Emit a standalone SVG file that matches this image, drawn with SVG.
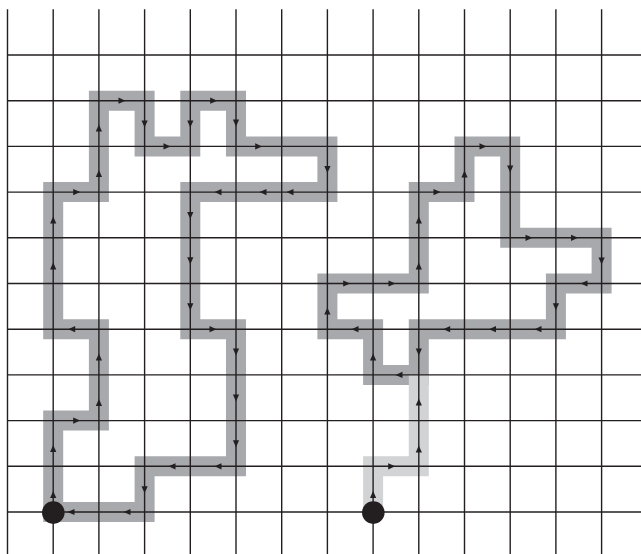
<svg xmlns="http://www.w3.org/2000/svg" xmlns:xlink="http://www.w3.org/1999/xlink" width="641" height="554" viewBox="0 0 641 554">
<style>
.band{fill:none;stroke:#a7a9ac;stroke-width:20;stroke-linejoin:miter;stroke-linecap:butt}
.light{fill:none;stroke:#d1d3d4;stroke-width:20;stroke-linejoin:miter;stroke-linecap:butt}
.grid line{stroke:#231f20;stroke-width:1.4}
.arr use{fill:#231f20}
.dot{fill:#231f20}
</style>
<defs>
<path id="a" d="M3.5,0 L-3.5,-3.1 L-3.5,3.1 Z"/>
</defs>
<rect width="641" height="554" fill="#ffffff"/>
<g id="connectors">
<path id="leftLoop" class="band" d="M53.2,512 V420.6 H98.9 V329.2 H53.2 V192.1 H98.9 V100.7 H144.6 V146.4 H190.3 V100.7 H236 V146.4 H327.4 V192.1 H190.3 V329.2 H236 V466.3 H144.6 V512 Z"/>
<path id="rightLoop" class="band" d="M418.8,374.9 H373.1 V329.2 H327.4 V283.5 H418.8 V192.1 H464.5 V146.4 H510.2 V237.8 H601.6 V283.5 H555.9 V329.2 H418.8 Z"/>
<path id="rightLead" class="light" d="M373.1,512 V466.3 H418.8 V374.9"/>
</g>
<g id="grid" class="grid">
<line x1="7.5" y1="9.3" x2="7.5" y2="554"/>
<line x1="53.2" y1="9.3" x2="53.2" y2="554"/>
<line x1="98.9" y1="9.3" x2="98.9" y2="554"/>
<line x1="144.6" y1="9.3" x2="144.6" y2="554"/>
<line x1="190.3" y1="9.3" x2="190.3" y2="554"/>
<line x1="236" y1="9.3" x2="236" y2="554"/>
<line x1="281.7" y1="9.3" x2="281.7" y2="554"/>
<line x1="327.4" y1="9.3" x2="327.4" y2="554"/>
<line x1="373.1" y1="9.3" x2="373.1" y2="554"/>
<line x1="418.8" y1="9.3" x2="418.8" y2="554"/>
<line x1="464.5" y1="9.3" x2="464.5" y2="554"/>
<line x1="510.2" y1="9.3" x2="510.2" y2="554"/>
<line x1="555.9" y1="9.3" x2="555.9" y2="554"/>
<line x1="601.6" y1="9.3" x2="601.6" y2="554"/>
<line x1="7.5" y1="55" x2="641" y2="55"/>
<line x1="7.5" y1="100.7" x2="641" y2="100.7"/>
<line x1="7.5" y1="146.4" x2="641" y2="146.4"/>
<line x1="7.5" y1="192.1" x2="641" y2="192.1"/>
<line x1="7.5" y1="237.8" x2="641" y2="237.8"/>
<line x1="7.5" y1="283.5" x2="641" y2="283.5"/>
<line x1="7.5" y1="329.2" x2="641" y2="329.2"/>
<line x1="7.5" y1="374.9" x2="641" y2="374.9"/>
<line x1="7.5" y1="420.6" x2="641" y2="420.6"/>
<line x1="7.5" y1="466.3" x2="641" y2="466.3"/>
<line x1="7.5" y1="512" x2="641" y2="512"/>
</g>
<g id="arrowsLeft" class="arr">
<use xlink:href="#a" transform="translate(53.2,494.5) rotate(-90)"/>
<use xlink:href="#a" transform="translate(53.2,448.5) rotate(-90)"/>
<use xlink:href="#a" transform="translate(76.7,420.6)"/>
<use xlink:href="#a" transform="translate(98.9,402.5) rotate(-90)"/>
<use xlink:href="#a" transform="translate(98.9,357) rotate(-90)"/>
<use xlink:href="#a" transform="translate(71.7,329.2) rotate(180)"/>
<use xlink:href="#a" transform="translate(53.2,266) rotate(-90)"/>
<use xlink:href="#a" transform="translate(53.2,220) rotate(-90)"/>
<use xlink:href="#a" transform="translate(76.7,192.1)"/>
<use xlink:href="#a" transform="translate(98.9,173.5) rotate(-90)"/>
<use xlink:href="#a" transform="translate(98.9,128) rotate(-90)"/>
<use xlink:href="#a" transform="translate(122,100.7)"/>
<use xlink:href="#a" transform="translate(144.6,124) rotate(90)"/>
<use xlink:href="#a" transform="translate(167,146.4)"/>
<use xlink:href="#a" transform="translate(190.3,124) rotate(90)"/>
<use xlink:href="#a" transform="translate(213.7,100.7)"/>
<use xlink:href="#a" transform="translate(236,123) rotate(90)"/>
<use xlink:href="#a" transform="translate(258.7,146.4)"/>
<use xlink:href="#a" transform="translate(327.4,169.5) rotate(90)"/>
<use xlink:href="#a" transform="translate(290,192.1) rotate(180)"/>
<use xlink:href="#a" transform="translate(263,192.1) rotate(180)"/>
<use xlink:href="#a" transform="translate(218,192.1) rotate(180)"/>
<use xlink:href="#a" transform="translate(190.3,215.5) rotate(90)"/>
<use xlink:href="#a" transform="translate(190.3,260.7) rotate(90)"/>
<use xlink:href="#a" transform="translate(190.3,306.7) rotate(90)"/>
<use xlink:href="#a" transform="translate(213,329.2)"/>
<use xlink:href="#a" transform="translate(236,352) rotate(90)"/>
<use xlink:href="#a" transform="translate(236,398) rotate(90)"/>
<use xlink:href="#a" transform="translate(236,443.7) rotate(90)"/>
<use xlink:href="#a" transform="translate(218,466.3) rotate(180)"/>
<use xlink:href="#a" transform="translate(172,466.3) rotate(180)"/>
<use xlink:href="#a" transform="translate(144.6,489.7) rotate(90)"/>
<use xlink:href="#a" transform="translate(127,512) rotate(180)"/>
<use xlink:href="#a" transform="translate(71,512) rotate(180)"/>
</g>
<g id="arrowsRight" class="arr">
<use xlink:href="#a" transform="translate(373.1,494.5) rotate(-90)"/>
<use xlink:href="#a" transform="translate(391.7,466.3)"/>
<use xlink:href="#a" transform="translate(418.8,449) rotate(-90)"/>
<use xlink:href="#a" transform="translate(418.8,402) rotate(-90)"/>
<use xlink:href="#a" transform="translate(399,374.9) rotate(180)"/>
<use xlink:href="#a" transform="translate(373.1,357) rotate(-90)"/>
<use xlink:href="#a" transform="translate(355,329.2) rotate(180)"/>
<use xlink:href="#a" transform="translate(327.4,311) rotate(-90)"/>
<use xlink:href="#a" transform="translate(346.7,283.5)"/>
<use xlink:href="#a" transform="translate(392,283.5)"/>
<use xlink:href="#a" transform="translate(418.8,266) rotate(-90)"/>
<use xlink:href="#a" transform="translate(418.8,220) rotate(-90)"/>
<use xlink:href="#a" transform="translate(437,192.1)"/>
<use xlink:href="#a" transform="translate(464.5,174) rotate(-90)"/>
<use xlink:href="#a" transform="translate(483,146.4)"/>
<use xlink:href="#a" transform="translate(510.2,169) rotate(90)"/>
<use xlink:href="#a" transform="translate(529,237.8)"/>
<use xlink:href="#a" transform="translate(574.5,237.8)"/>
<use xlink:href="#a" transform="translate(601.6,261) rotate(90)"/>
<use xlink:href="#a" transform="translate(584,283.5) rotate(180)"/>
<use xlink:href="#a" transform="translate(555.9,306.7) rotate(90)"/>
<use xlink:href="#a" transform="translate(538,329.2) rotate(180)"/>
<use xlink:href="#a" transform="translate(492.5,329.2) rotate(180)"/>
<use xlink:href="#a" transform="translate(446.7,329.2) rotate(180)"/>
<use xlink:href="#a" transform="translate(418.8,352) rotate(90)"/>
</g>
<g id="startLeft"><circle class="dot" cx="53.3" cy="512.6" r="11.3"/></g>
<g id="startRight"><circle class="dot" cx="373.3" cy="512.6" r="11.3"/></g>
</svg>
